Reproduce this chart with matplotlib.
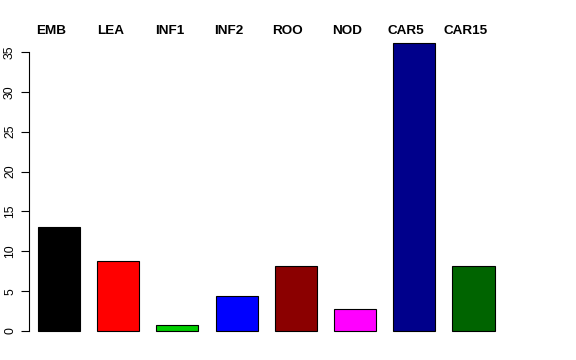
import matplotlib.pyplot as plt
import matplotlib.transforms as mtransforms

plt.rcParams['font.family'] = ['Liberation Sans', 'DejaVu Sans']

# data
labels = ["EMB", "LEA", "INF1", "INF2", "ROO", "NOD", "CAR5", "CAR15"]
values = [13.0, 8.8, 0.75, 4.4, 8.15, 2.75, 36.1, 8.15]
colors = ["#000000", "#FF0000", "#00CD00", "#0000FF",
          "#8B0000", "#FF00FF", "#00008B", "#006400"]
yticks = [0, 5, 10, 15, 20, 25, 30, 35]

fig = plt.figure(figsize=(5.76, 3.6), dpi=100)
# plot region as in the R device
ax = fig.add_axes([29 / 576, 17 / 360, 474 / 576, 311 / 360])

x = list(range(len(labels)))
ax.bar(x, values, width=0.71, color=colors, edgecolor="black", linewidth=0.8)

ax.set_xlim(-0.507, 7.498)
ax.set_ylim(-1.5, 37.5)

# R style axis: only left, line from first to last tick
for s in ["top", "right", "bottom"]:
    ax.spines[s].set_visible(False)
ax.spines["left"].set_bounds(0, 35)
ax.spines["left"].set_linewidth(0.8)
ax.set_xticks([])
ax.set_yticks(yticks)
ax.set_yticklabels([str(t) for t in yticks], rotation=90, va="center")
ax.tick_params(axis="y", length=5.8, width=0.8, pad=3.5, labelsize=8.8)

# category names above the plot (sit a little left of the bars, as in the original)
trans = mtransforms.blended_transform_factory(ax.transData, fig.transFigure)
for xi, lab in zip(x, labels):
    ax.text(xi - 0.135, (360 - 34) / 360, lab, transform=trans, ha="center",
            va="baseline", fontsize=9.7, fontweight="bold")

fig.savefig("out.png", dpi=100)
